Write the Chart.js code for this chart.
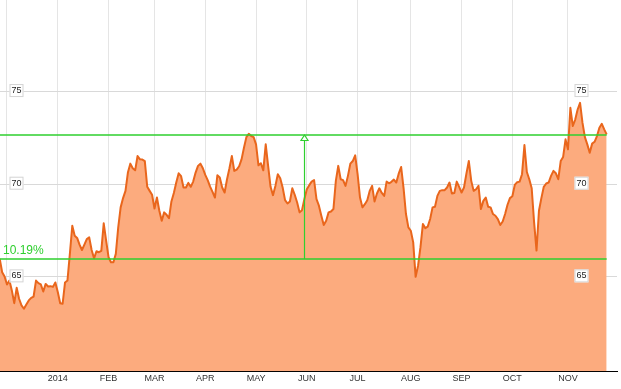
<!DOCTYPE html>
<html>
<head>
<meta charset="utf-8">
<script src="https://cdn.jsdelivr.net/npm/chart.js@4.4.0/dist/chart.umd.min.js"></script>
<style>
  html, body { margin: 0; padding: 0; background: #fff; }
</style>
</head>
<body>
<canvas id="chart" width="621" height="389"></canvas>
<script>
// x = trading day counted from the first session of Dec 2013
const firstDay = -3;
const closes = [
  65.97, 65.25, 65.02,
  // Dec
  64.59, 64.80, 64.27, 63.58, 64.41, 63.82, 63.46, 63.28, 63.51, 63.73,
  63.87, 63.94, 64.80, 64.66, 64.59, 64.21, 64.62, 64.48, 64.50, 64.46, 64.70,
  // Jan
  64.18, 63.58, 63.55, 64.70, 64.80, 66.24, 67.76, 67.22, 67.10, 66.74,
  66.45, 66.74, 67.04, 67.13, 66.45, 66.00, 66.38, 66.33, 66.40, 67.89, 66.95,
  // Feb
  66.06, 65.79, 65.79, 66.24, 67.67, 68.75, 69.25, 69.64, 70.63, 71.11,
  70.86, 70.75, 71.52, 71.34, 71.33, 71.25, 69.86, 69.64, 69.43,
  // Mar
  68.69, 69.28, 68.57, 68.03, 68.48, 68.35, 68.17, 69.07, 69.53, 70.09,
  70.59, 70.43, 69.82, 69.82, 70.07, 69.86, 70.14, 70.63, 70.99, 71.11, 70.86,
  // Apr
  70.50, 70.22, 69.87, 69.59, 69.28, 70.48, 70.36, 69.82, 69.55, 70.27,
  70.86, 71.52, 70.72, 70.79, 70.97, 71.34, 71.97, 72.54, 72.72, 72.60, 72.54,
  // May
  72.15, 71.02, 71.13, 70.75, 72.15, 70.99, 69.86, 69.41, 69.91, 70.54,
  70.32, 69.82, 69.14, 68.96, 69.07, 69.78, 69.43, 69.01, 68.48, 68.60, 69.20,
  // Jun
  69.73, 69.95, 70.14, 70.22, 69.19, 68.84, 68.30, 67.80, 68.03, 68.48,
  68.53, 68.66, 70.18, 70.99, 70.27, 70.22, 69.91, 70.45, 71.11, 71.25, 71.56,
  // Jul
  70.54, 69.28, 68.75, 68.92, 69.14, 69.64, 69.91, 69.07, 69.50, 69.78, 69.53,
  69.37, 70.14, 70.05, 70.13, 70.25, 70.09, 70.57, 70.93, 69.80, 68.39, 67.67,
  // Aug
  67.49, 66.86, 65.00, 65.60, 66.60, 67.85, 67.63, 67.71, 68.12, 68.75,
  68.78, 69.37, 69.64, 69.68, 69.68, 69.82, 70.09, 69.50, 69.53, 70.14, 69.86,
  // Sep
  69.55, 69.82, 70.57, 71.25, 70.18, 69.64, 69.73, 69.91, 68.66, 69.10,
  69.28, 68.78, 68.75, 68.39, 68.30, 68.12, 67.80, 67.99, 68.39, 68.89, 69.25,
  // Oct
  69.35, 69.96, 70.11, 70.14, 70.54, 72.11, 70.66, 70.27, 69.78, 67.94, 66.42,
  68.57, 69.25, 69.86, 70.04, 70.09, 70.45, 70.72, 70.59, 70.27, 71.25, 71.47, 72.42,
  // Nov
  71.88, 74.12, 73.14, 73.49, 74.03, 74.39, 73.32, 72.54, 72.15, 71.70,
  72.19, 72.29, 72.60, 73.05, 73.26, 72.96, 72.69
];

const monthTicks = [0, 21, 42, 61, 82, 103, 124, 145, 167, 188, 209, 232];
const monthLabels = ["", "2014", "FEB", "MAR", "APR", "MAY", "JUN", "JUL", "AUG", "SEP", "OCT", "NOV"];
const priceTicks = [65, 70, 75];

const rangeLow = 65.96;
const rangeHigh = 72.68;
const rangeDay = 123;
const rangeText = "10.19%";

const green = "#2fcf2f";

const points = closes.map((v, i) => ({ x: firstDay + i, y: v }));

const overlay = {
  id: "overlay",
  afterDraw(chart) {
    const ctx = chart.ctx;
    const x = chart.scales.x;
    const y = chart.scales.y;
    const area = chart.chartArea;
    const xEnd = x.getPixelForValue(firstDay + closes.length - 1);
    const yLow = Math.round(y.getPixelForValue(rangeLow));
    const yHigh = Math.round(y.getPixelForValue(rangeHigh));
    const xv = Math.round(x.getPixelForValue(rangeDay)) + 0.5;

    ctx.save();
    ctx.strokeStyle = green;
    ctx.lineWidth = 1.6;
    ctx.beginPath();
    ctx.moveTo(area.left, yLow);
    ctx.lineTo(xEnd, yLow);
    ctx.moveTo(area.left, yHigh);
    ctx.lineTo(xEnd, yHigh);
    ctx.stroke();

    ctx.lineWidth = 1.2;
    ctx.beginPath();
    ctx.moveTo(xv, yLow);
    ctx.lineTo(xv, yHigh + 5);
    ctx.stroke();

    // hollow arrow head
    ctx.beginPath();
    ctx.moveTo(xv, yHigh);
    ctx.lineTo(xv - 3.5, yHigh + 5.5);
    ctx.lineTo(xv + 3.5, yHigh + 5.5);
    ctx.closePath();
    ctx.fillStyle = "#fff";
    ctx.fill();
    ctx.stroke();

    ctx.fillStyle = green;
    ctx.font = "12px 'Liberation Sans', Arial, sans-serif";
    ctx.textAlign = "left";
    ctx.textBaseline = "alphabetic";
    ctx.fillText(rangeText, 3, yLow - 5);

    // boxed price labels on both sides
    ctx.lineWidth = 1;
    ctx.font = "9px 'Liberation Sans', Arial, sans-serif";
    ctx.textAlign = "center";
    ctx.textBaseline = "middle";
    priceTicks.forEach((p) => {
      const py = y.getPixelForValue(p);
      [16.5, 581.5].forEach((cx) => {
        ctx.fillStyle = "#fff";
        ctx.fillRect(cx - 7, py - 7.5, 14, 13);
        ctx.strokeStyle = "#d4d4d4";
        ctx.strokeRect(cx - 7 + 0.5, py - 7.5 + 0.5, 13, 12);
        ctx.fillStyle = "#222";
        ctx.fillText(String(p), cx, py - 1);
      });
    });
    ctx.restore();
  }
};

new Chart(document.getElementById("chart"), {
  type: "line",
  data: {
    datasets: [{
      data: points,
      borderColor: "#e9661c",
      backgroundColor: "#fcab7e",
      borderWidth: 2,
      borderJoinStyle: "round",
      pointRadius: 0,
      tension: 0,
      fill: "start"
    }]
  },
  options: {
    responsive: false,
    animation: false,
    devicePixelRatio: 1,
    layout: { padding: { right: 4, bottom: 3 } },
    plugins: { legend: { display: false }, tooltip: { enabled: false } },
    scales: {
      x: {
        type: "linear",
        min: -2.895,
        max: 252.28,
        z: 1,
        afterBuildTicks: (axis) => { axis.ticks = monthTicks.map((v) => ({ value: v })); },
        ticks: {
          autoSkip: false,
          maxRotation: 0,
          padding: 2,
          color: "#333",
          font: { family: "'Liberation Sans', Arial, sans-serif", size: 9 },
          callback: (v, i) => monthLabels[i]
        },
        grid: { color: "rgba(0,0,0,0.1)", drawTicks: false },
        border: { color: "#000", width: 1 }
      },
      y: {
        type: "linear",
        min: 59.91,
        max: 79.94,
        afterBuildTicks: (axis) => { axis.ticks = priceTicks.map((v) => ({ value: v })); },
        ticks: { display: false },
        grid: { color: "#d9d9d9", drawTicks: false },
        border: { display: false }
      }
    }
  },
  plugins: [overlay]
});
</script>
</body>
</html>
